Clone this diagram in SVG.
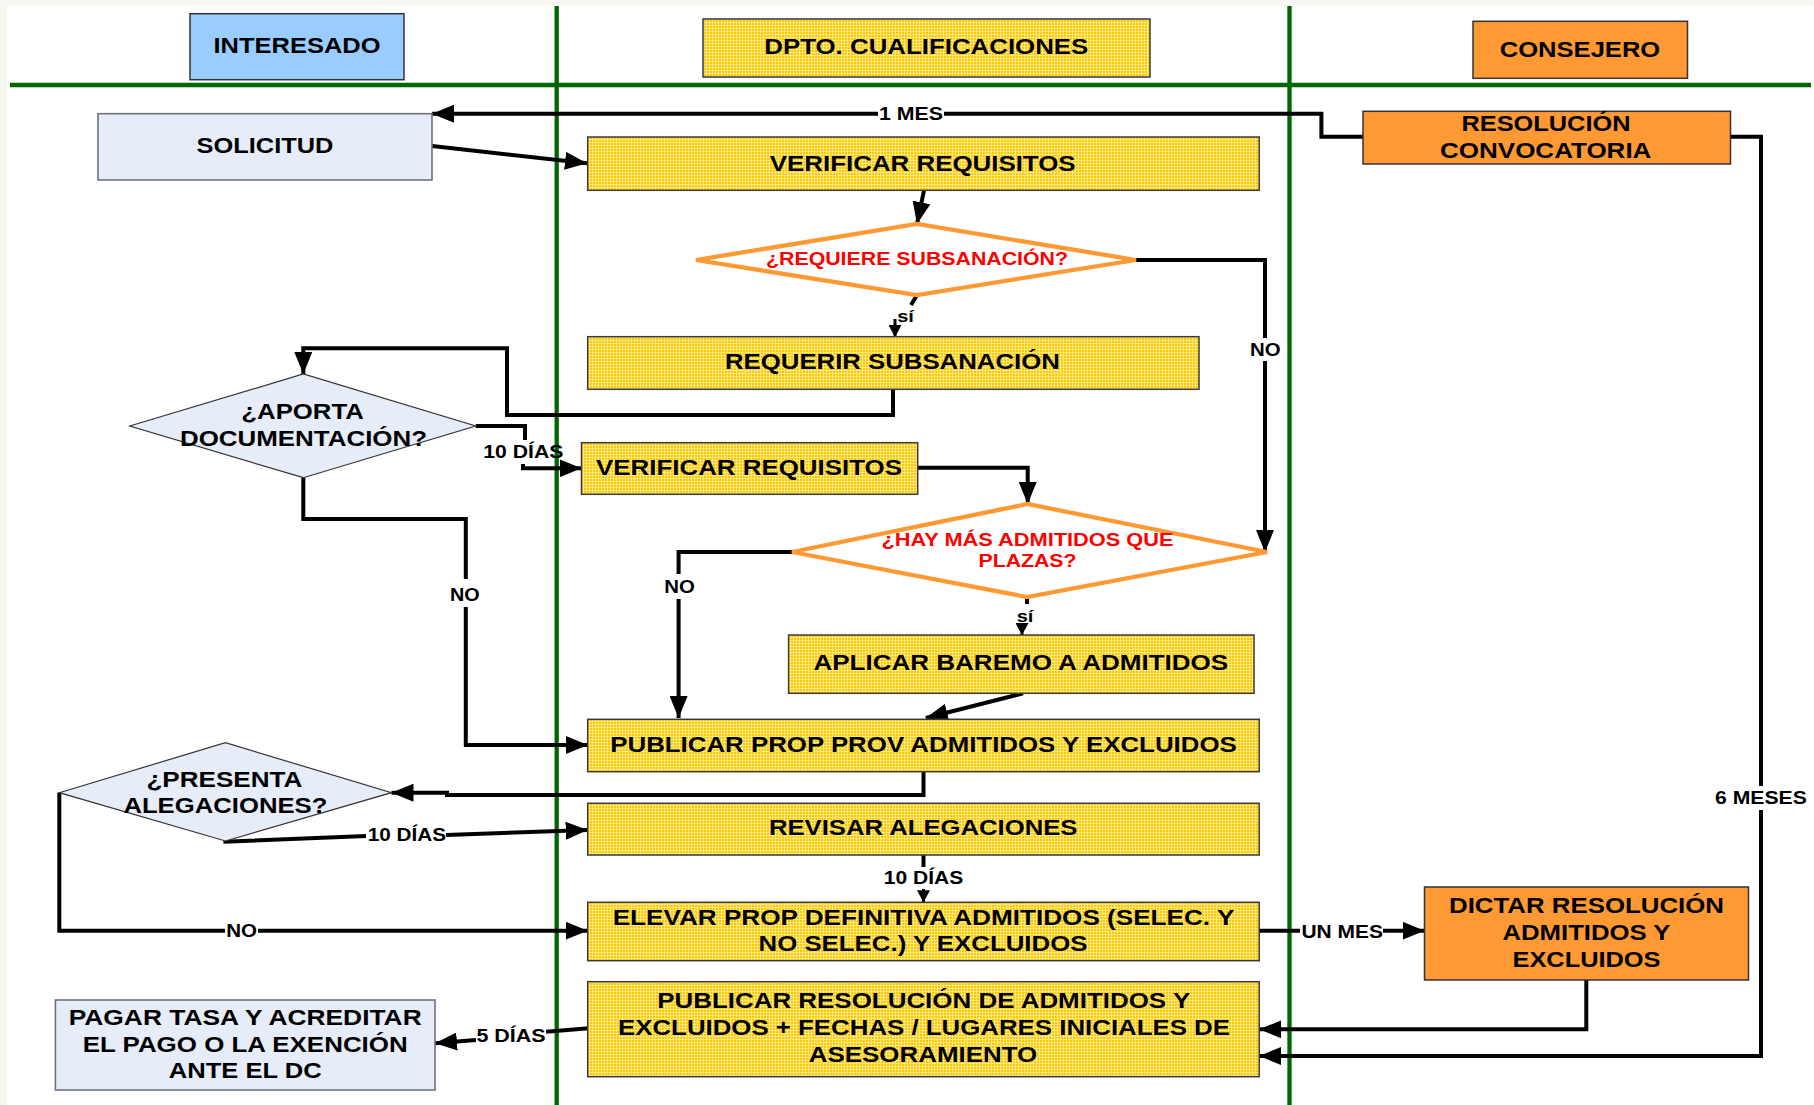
<svg xmlns="http://www.w3.org/2000/svg" width="1814" height="1105" viewBox="0 0 1814 1105">
<defs>
<pattern id="mesh" width="6" height="6" patternUnits="userSpaceOnUse">
<rect width="6" height="6" fill="#fbc900"/>
<path d="M1.5,0V6M4.5,0V6M0,1.5H6M0,4.5H6" stroke="#ffe784" stroke-width="1"/>
</pattern>
<marker id="ah" markerUnits="userSpaceOnUse" markerWidth="22" markerHeight="18" refX="22" refY="9" orient="auto">
<path d="M0,0L22,9L0,18z" fill="#000"/>
</marker>
<marker id="as" markerUnits="userSpaceOnUse" markerWidth="12" markerHeight="13" refX="12" refY="6.5" orient="auto">
<path d="M0,0L12,6.5L0,13z" fill="#000"/>
</marker>
</defs>
<style>
.lane{stroke:#006600;stroke-width:4.3;fill:none}
.by{fill:url(#mesh);stroke:#3a3a3a;stroke-width:1.5}
.bo{fill:#ff9933;stroke:#333;stroke-width:1.5}
.bb{fill:#e6edf8;stroke:#6e727a;stroke-width:1.6}
.hb{fill:#99ccff;stroke:#333;stroke-width:1.5}
.db{fill:#e6edf8;stroke:#333;stroke-width:1.2}
.do{fill:#fff;stroke:#ff9933;stroke-width:4.3;stroke-linejoin:miter}
.t{font-family:"Liberation Sans",Arial,sans-serif;font-weight:bold;font-size:22px;fill:#000;text-anchor:middle}
.r{fill:#ff0000;font-size:18px}
.l{font-size:18px}
.s{font-size:16px}
.c{fill:none;stroke:#000;stroke-width:4}
.ca{fill:none;stroke:#000;stroke-width:4;marker-end:url(#ah)}
.cs{fill:none;stroke:#000;stroke-width:3;marker-end:url(#as)}
</style>
<rect width="1814" height="1105" fill="#f7f8f2"/>
<rect x="7" y="6" width="1807" height="1099" fill="#fff"/>
<g id="lanes">
<path class="lane" d="M10,85H1811"/>
<path class="lane" d="M556.7,6V1105"/>
<path class="lane" d="M1289.5,6V1105"/>
</g>
<g id="header-interesado"><rect class="hb" x="190" y="13.7" width="214" height="66"/><text class="t" x="297" y="53.3" textLength="167" lengthAdjust="spacingAndGlyphs">INTERESADO</text></g>
<g id="header-dpto"><rect class="by" x="703" y="19" width="447" height="58"/><text class="t" x="926.3" y="54" textLength="324" lengthAdjust="spacingAndGlyphs">DPTO. CUALIFICACIONES</text></g>
<g id="header-consejero"><rect class="bo" x="1473" y="21.3" width="214.5" height="57"/><text class="t" x="1580" y="56.7" textLength="160.5" lengthAdjust="spacingAndGlyphs">CONSEJERO</text></g>
<g id="connectors">
<path class="ca" d="M430,145.7L587,163.3"/>
<path class="ca" d="M1363,136.7H1321.4V113.7H944M878,113.7H432"/>
<path class="ca" d="M924,190.3L917,224"/>
<path class="ca" d="M1136,260H1265V338M1265,361V552"/>
<path class="c" d="M917,295L911,305"/>
<path class="cs" d="M895,319V337"/>
<path class="ca" d="M893,389.3V415H507V348.3H303.3V374"/>
<path class="c" d="M475.7,426H525V440"/>
<path class="ca" d="M523,464V468.3H581.5"/>
<path class="ca" d="M303.3,477.7V519H465.8V579M465.8,607V745H587.7"/>
<path class="ca" d="M917.7,467.7H1027.7V504"/>
<path class="ca" d="M792,552H678.6V574M678.6,599V718"/>
<path class="c" d="M1027,597V604"/>
<path class="cs" d="M1022,624V635"/>
<path class="ca" d="M1023,693.3L925.8,718"/>
<path class="ca" d="M923.5,771.7V795H447V792.7H391.5"/>
<path class="ca" d="M223.4,841.7L366,836M446,835L587.7,830"/>
<path class="ca" d="M59.3,792.7V930.7H225M258,930.7H587.7"/>
<path class="c" d="M923.5,855V867"/>
<path class="cs" d="M923.5,889V902.3"/>
<path class="ca" d="M1259.2,930.7H1300M1383,930.7H1424.5"/>
<path class="ca" d="M1586.3,980V1029.3H1259.2"/>
<path class="ca" d="M1730.5,136.7H1761V786M1761,810V1056H1259.2"/>
<path class="ca" d="M589,1028.3L546,1031.7M476,1040L435,1043.3"/>
<text class="t l" x="911" y="120" textLength="64" lengthAdjust="spacingAndGlyphs">1 MES</text>
<text class="t l" x="1265.4" y="356" textLength="30.6" lengthAdjust="spacingAndGlyphs">NO</text>
<text class="t s" x="905.5" y="321.7" textLength="16.7" lengthAdjust="spacingAndGlyphs">sí</text>
<text class="t l" x="523.3" y="457.7" textLength="80" lengthAdjust="spacingAndGlyphs">10 DÍAS</text>
<text class="t l" x="464.8" y="600.7" textLength="29.7" lengthAdjust="spacingAndGlyphs">NO</text>
<text class="t l" x="679.6" y="593.3" textLength="30.6" lengthAdjust="spacingAndGlyphs">NO</text>
<text class="t s" x="1025" y="621.7" textLength="16.7" lengthAdjust="spacingAndGlyphs">sí</text>
<text class="t l" x="406.9" y="841" textLength="78.3" lengthAdjust="spacingAndGlyphs">10 DÍAS</text>
<text class="t l" x="241.6" y="936.7" textLength="30.8" lengthAdjust="spacingAndGlyphs">NO</text>
<text class="t l" x="923.5" y="884" textLength="79.4" lengthAdjust="spacingAndGlyphs">10 DÍAS</text>
<text class="t l" x="1342.2" y="938.3" textLength="81.6" lengthAdjust="spacingAndGlyphs">UN MES</text>
<text class="t l" x="1760.9" y="804" textLength="91.7" lengthAdjust="spacingAndGlyphs">6 MESES</text>
<text class="t l" x="511" y="1041.7" textLength="69.2" lengthAdjust="spacingAndGlyphs">5 DÍAS</text>
</g>
<g id="solicitud"><rect class="bb" x="98" y="113.7" width="334" height="66.3"/><text class="t" x="265" y="152.7" textLength="136.8" lengthAdjust="spacingAndGlyphs">SOLICITUD</text></g>
<g id="verificar1"><rect class="by" x="587.7" y="137" width="671.5" height="53.3"/><text class="t" x="922.7" y="170.7" textLength="305.8" lengthAdjust="spacingAndGlyphs">VERIFICAR REQUISITOS</text></g>
<g id="resolucion-convocatoria"><rect class="bo" x="1363" y="111.3" width="367.5" height="52.7"/><text class="t" x="1546" y="131" textLength="169" lengthAdjust="spacingAndGlyphs">RESOLUCIÓN</text><text class="t" x="1545.7" y="157.7" textLength="211.4" lengthAdjust="spacingAndGlyphs">CONVOCATORIA</text></g>
<g id="requiere-subsanacion"><polygon class="do" points="696,260 917,224 1136,260 917,295"/><text class="t r" x="917" y="265" textLength="302" lengthAdjust="spacingAndGlyphs">¿REQUIERE SUBSANACIÓN?</text></g>
<g id="requerir-subsanacion"><rect class="by" x="587.7" y="336.7" width="611.3" height="52.6"/><text class="t" x="892.4" y="369" textLength="334.8" lengthAdjust="spacingAndGlyphs">REQUERIR SUBSANACIÓN</text></g>
<g id="aporta-documentacion"><polygon class="db" points="129.7,426 303.3,374 475.7,426 303.3,477.7"/><text class="t" x="302.6" y="419.3" textLength="122.6" lengthAdjust="spacingAndGlyphs">¿APORTA</text><text class="t" x="303.5" y="445.7" textLength="247" lengthAdjust="spacingAndGlyphs">DOCUMENTACIÓN?</text></g>
<g id="verificar2"><rect class="by" x="581.5" y="442.7" width="336.2" height="51.6"/><text class="t" x="749" y="475" textLength="306" lengthAdjust="spacingAndGlyphs">VERIFICAR REQUISITOS</text></g>
<g id="mas-admitidos"><polygon class="do" points="792,552 1027.5,504 1267,552 1027,597"/><text class="t r" x="1027.5" y="546" textLength="292" lengthAdjust="spacingAndGlyphs">¿HAY MÁS ADMITIDOS QUE</text><text class="t r" x="1027.5" y="566.7" textLength="98" lengthAdjust="spacingAndGlyphs">PLAZAS?</text></g>
<g id="aplicar-baremo"><rect class="by" x="788.6" y="635" width="465.4" height="58.3"/><text class="t" x="1020.8" y="670" textLength="414.6" lengthAdjust="spacingAndGlyphs">APLICAR BAREMO A ADMITIDOS</text></g>
<g id="publicar-prop"><rect class="by" x="587.7" y="719.3" width="671.5" height="52.4"/><text class="t" x="923.5" y="752.3" textLength="626.5" lengthAdjust="spacingAndGlyphs">PUBLICAR PROP PROV ADMITIDOS Y EXCLUIDOS</text></g>
<g id="presenta-alegaciones"><polygon class="db" points="59.3,792.7 225.4,742.7 391.5,792.7 225.4,841"/><text class="t" x="224.4" y="787.3" textLength="156" lengthAdjust="spacingAndGlyphs">¿PRESENTA</text><text class="t" x="225.4" y="812.7" textLength="204" lengthAdjust="spacingAndGlyphs">ALEGACIONES?</text></g>
<g id="revisar-alegaciones"><rect class="by" x="587.7" y="803.3" width="671.5" height="51.7"/><text class="t" x="923.2" y="835" textLength="308.5" lengthAdjust="spacingAndGlyphs">REVISAR ALEGACIONES</text></g>
<g id="elevar-prop"><rect class="by" x="587.7" y="902.3" width="671.5" height="58.4"/><text class="t" x="923.5" y="925" textLength="621.7" lengthAdjust="spacingAndGlyphs">ELEVAR PROP DEFINITIVA ADMITIDOS (SELEC. Y</text><text class="t" x="923" y="950.7" textLength="329" lengthAdjust="spacingAndGlyphs">NO SELEC.) Y EXCLUIDOS</text></g>
<g id="dictar-resolucion"><rect class="bo" x="1424.5" y="887" width="324" height="93"/><text class="t" x="1586.5" y="913.3" textLength="275" lengthAdjust="spacingAndGlyphs">DICTAR RESOLUCIÓN</text><text class="t" x="1586.5" y="940" textLength="168" lengthAdjust="spacingAndGlyphs">ADMITIDOS Y</text><text class="t" x="1586.5" y="966.7" textLength="148" lengthAdjust="spacingAndGlyphs">EXCLUIDOS</text></g>
<g id="publicar-resolucion"><rect class="by" x="587.7" y="981.7" width="671.5" height="95"/><text class="t" x="923.7" y="1008.3" textLength="533" lengthAdjust="spacingAndGlyphs">PUBLICAR RESOLUCIÓN DE ADMITIDOS Y</text><text class="t" x="924" y="1035" textLength="612" lengthAdjust="spacingAndGlyphs">EXCLUIDOS + FECHAS / LUGARES INICIALES DE</text><text class="t" x="923" y="1061.7" textLength="228.6" lengthAdjust="spacingAndGlyphs">ASESORAMIENTO</text></g>
<g id="pagar-tasa"><rect class="bb" x="55.4" y="1000" width="379.6" height="90"/><text class="t" x="245.2" y="1025" textLength="353" lengthAdjust="spacingAndGlyphs">PAGAR TASA Y ACREDITAR</text><text class="t" x="245.2" y="1051.7" textLength="325" lengthAdjust="spacingAndGlyphs">EL PAGO O LA EXENCIÓN</text><text class="t" x="245.2" y="1077.7" textLength="153" lengthAdjust="spacingAndGlyphs">ANTE EL DC</text></g>
</svg>
